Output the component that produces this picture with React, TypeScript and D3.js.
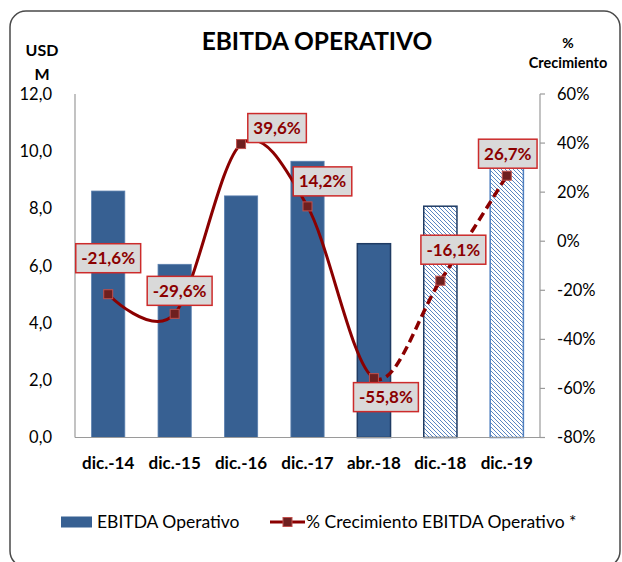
import React, { useEffect, useRef } from "react";
import * as d3 from "d3";

const categories = ["dic.-14", "dic.-15", "dic.-16", "dic.-17", "abr.-18", "dic.-18", "dic.-19"];
const ebitdaValues = [8.61, 6.05, 8.44, 9.65, 6.77, 8.08, 10.24];
const growthValues = [-21.6, -29.6, 39.6, 14.2, -55.8, -16.1, 26.7];
const projectedFlags = [false, false, false, false, false, true, true];
const leftTicks = [0, 2, 4, 6, 8, 10, 12];
const rightTicks = [-80, -60, -40, -20, 0, 20, 40, 60];
const seriesNames = ["EBITDA Operativo", "% Crecimiento EBITDA Operativo *"];

// label offsets (style only)
const labelOffsets: [number, number][] = [
  [0, -36], [5, -23], [36, -16], [15, -25], [12, 19], [13, -31], [1, -22],
];

const W = 622;
const H = 562;
const FONT = "Lato, 'Open Sans', sans-serif";

export default function App() {
  const ref = useRef<SVGSVGElement | null>(null);

  useEffect(() => {
    const svg = d3.select(ref.current);
    svg.selectAll("*").remove();

    const locale = d3.formatLocale({ decimal: ",", thousands: ".", grouping: [3], currency: ["", ""], minus: "-" });
    const f1 = locale.format(".1f");
    const f0 = locale.format(".0f");

    const left = 75, right = 540, top = 94, bottom = 437.5;

    const x = d3.scaleBand<string>().domain(categories).range([left, right]).paddingInner(0.5).paddingOuter(0.25);
    const y = d3.scaleLinear().domain([0, 12]).range([bottom, top]);
    const y2 = d3.scaleLinear().domain([-80, 60]).range([bottom, top]);

    const defs = svg.append("defs");
    const pat = defs.append("pattern").attr("id", "hatch").attr("patternUnits", "userSpaceOnUse")
      .attr("width", 4).attr("height", 4);
    pat.append("rect").attr("width", 4).attr("height", 4).attr("fill", "#ffffff");
    pat.append("path").attr("d", "M-1,-1 L5,5 M-1,3 L1,5 M3,-1 L5,1")
      .attr("stroke", "#5a86c2").attr("stroke-width", 1);

    // outer border
    svg.append("rect").attr("x", 10).attr("y", 11).attr("width", 610).attr("height", 556)
      .attr("rx", 16).attr("fill", "#ffffff").attr("stroke", "#4a4a4a").attr("stroke-width", 1.5);

    // title
    svg.append("text").attr("x", 317).attr("y", 50).attr("text-anchor", "middle")
      .attr("font-family", FONT).attr("font-weight", 700).attr("font-size", 24.5).attr("fill", "#000")
      .text("EBITDA OPERATIVO");

    // axis titles
    const at = svg.append("g").attr("font-family", FONT).attr("font-weight", 700).attr("fill", "#000");
    at.append("text").attr("x", 42).attr("y", 56).attr("text-anchor", "middle").attr("font-size", 16).text("USD");
    at.append("text").attr("x", 42).attr("y", 80).attr("text-anchor", "middle").attr("font-size", 16).text("M");
    at.append("text").attr("x", 568).attr("y", 48).attr("text-anchor", "middle").attr("font-size", 14).text("%");
    at.append("text").attr("x", 568).attr("y", 68).attr("text-anchor", "middle").attr("font-size", 14.5).text("Crecimiento");

    // bars
    const bars = svg.append("g");
    categories.forEach((c, i) => {
      const proj = projectedFlags[i];
      const isAbr = i === 4;
      bars.append("rect")
        .attr("x", x(c)!)
        .attr("y", y(ebitdaValues[i]))
        .attr("width", x.bandwidth())
        .attr("height", y(0) - y(ebitdaValues[i]))
        .attr("fill", proj ? "url(#hatch)" : "#376092")
        .attr("stroke", proj ? (i === 5 ? "#1f3b63" : "#4f7fbf") : isAbr ? "#1f3b63" : "#5a7fae")
        .attr("stroke-width", proj || isAbr ? 1.5 : 0.8);
    });

    // axes lines
    const ax = svg.append("g").attr("stroke", "#9a9a9a").attr("stroke-width", 1.2).attr("fill", "none");
    ax.append("line").attr("x1", left).attr("x2", left).attr("y1", top).attr("y2", bottom);
    ax.append("line").attr("x1", left).attr("x2", right).attr("y1", bottom).attr("y2", bottom);
    ax.append("line").attr("x1", right).attr("x2", right).attr("y1", top).attr("y2", bottom);
    rightTicks.forEach((t) => {
      ax.append("line").attr("x1", right).attr("x2", right + 5).attr("y1", y2(t)).attr("y2", y2(t));
    });

    // tick labels
    const tl = svg.append("g").attr("font-family", FONT).attr("font-size", 16.5).attr("fill", "#000");
    leftTicks.forEach((t) => {
      tl.append("text").attr("x", 52).attr("y", y(t)).attr("dy", "0.35em").attr("text-anchor", "end").text(f1(t));
    });
    rightTicks.forEach((t) => {
      tl.append("text").attr("x", 557).attr("y", y2(t)).attr("dy", "0.35em").attr("text-anchor", "start").text(f0(t) + "%");
    });
    const xl = svg.append("g").attr("font-family", FONT).attr("font-size", 17).attr("font-weight", 700).attr("fill", "#000");
    categories.forEach((c) => {
      xl.append("text").attr("x", x(c)! + x.bandwidth() / 2).attr("y", 463).attr("dy", "0.35em")
        .attr("text-anchor", "middle").text(c);
    });

    // line
    const pts = categories.map((c, i) => [x(c)! + x.bandwidth() / 2, y2(growthValues[i])] as [number, number]);
    const lineGen = d3.line().curve(d3.curveCardinal.tension(0));
    const splitX = pts[4][0];
    defs.append("clipPath").attr("id", "clipSolid").append("rect").attr("x", 0).attr("y", 0).attr("width", splitX).attr("height", H);
    defs.append("clipPath").attr("id", "clipDash").append("rect").attr("x", splitX).attr("y", 0).attr("width", W - splitX).attr("height", H);
    svg.append("path").attr("d", lineGen(pts)!).attr("fill", "none").attr("stroke", "#8b0000")
      .attr("stroke-width", 3).attr("clip-path", "url(#clipSolid)");
    svg.append("path").attr("d", lineGen(pts)!).attr("fill", "none").attr("stroke", "#8b0000")
      .attr("stroke-width", 3.5).attr("stroke-dasharray", "9,5").attr("clip-path", "url(#clipDash)");

    // markers
    pts.forEach(([px, py]) => {
      svg.append("rect").attr("x", px - 4.5).attr("y", py - 4.5).attr("width", 9).attr("height", 9)
        .attr("fill", "#6e1f1f").attr("stroke", "#c0504d").attr("stroke-width", 1);
    });

    // data labels
    const lg = svg.append("g");
    pts.forEach(([px, py], i) => {
      const cx = px + labelOffsets[i][0];
      const cy = py + labelOffsets[i][1];
      const g = lg.append("g");
      const rect = g.append("rect").attr("fill", "#d9d9d9").attr("stroke", "#cc2b2b").attr("stroke-width", 1.5);
      const txt = g.append("text").attr("x", cx).attr("y", cy).attr("dy", "0.36em").attr("text-anchor", "middle")
        .attr("font-family", FONT).attr("font-weight", 700).attr("font-size", 17).attr("fill", "#8b0000")
        .text(f1(growthValues[i]) + "%");
      const bb = (txt.node() as SVGTextElement).getBBox();
      const w = bb.width + 11;
      const h = 29;
      rect.attr("x", cx - w / 2).attr("y", cy - h / 2).attr("width", w).attr("height", h);
    });

    // legend
    const leg = svg.append("g").attr("font-family", FONT).attr("font-size", 17.5).attr("fill", "#000");
    leg.append("rect").attr("x", 61).attr("y", 516.5).attr("width", 31).attr("height", 11).attr("fill", "#376092");
    leg.append("text").attr("x", 97).attr("y", 522).attr("dy", "0.35em").text(seriesNames[0]);
    leg.append("line").attr("x1", 270).attr("x2", 305).attr("y1", 522).attr("y2", 522)
      .attr("stroke", "#8b0000").attr("stroke-width", 3);
    leg.append("rect").attr("x", 283).attr("y", 517.5).attr("width", 9).attr("height", 9)
      .attr("fill", "#6e1f1f").attr("stroke", "#c0504d").attr("stroke-width", 1);
    leg.append("text").attr("x", 306).attr("y", 522).attr("dy", "0.35em").text(seriesNames[1]);
  }, []);

  return <svg ref={ref} width={W} height={H} style={{ position: "absolute", left: 0, top: 0 }} />;
}
